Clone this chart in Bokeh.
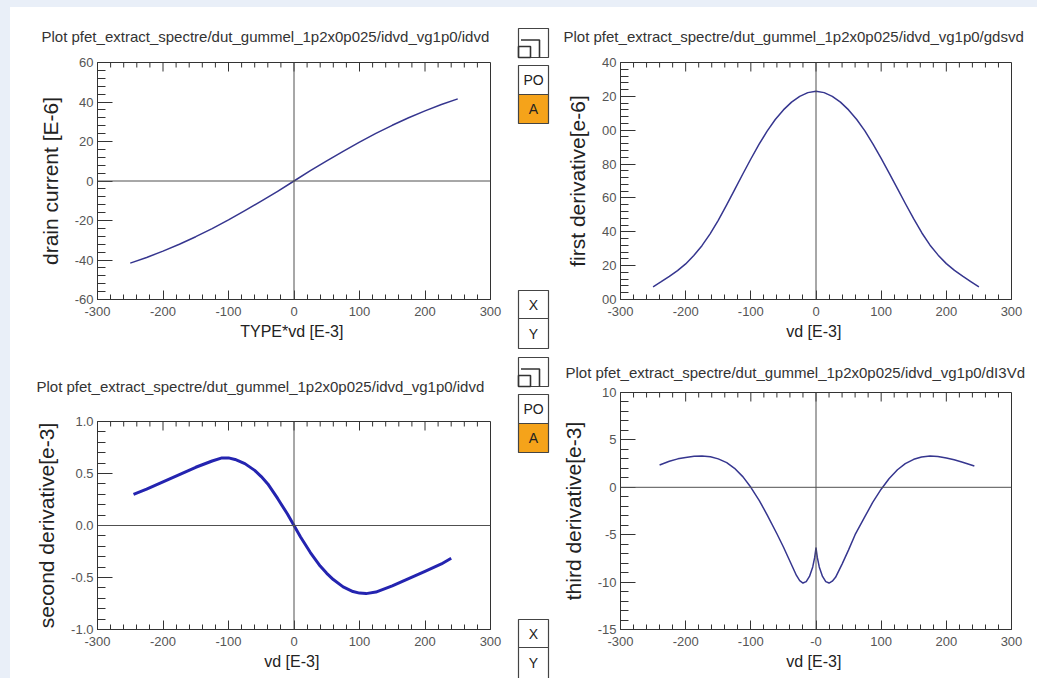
import math
from bokeh.plotting import figure
from bokeh.layouts import row, column
from bokeh.models import Range1d, SingleIntervalTicker, Span, PrintfTickFormatter, Spacer, Title
from bokeh.embed import file_html
from bokeh.resources import INLINE
from bokeh.core.properties import value

# ---------------- data ----------------
vd_id = [-250, -225, -200, -175, -150, -125, -100, -75, -50, -25, 0,
         25, 50, 75, 100, 125, 150, 175, 200, 225, 250]
id_vals = [-41.6, -38.7, -35.5, -32.0, -28.2, -24.1, -19.7, -15.0, -10.2, -5.2, 0.0,
           5.2, 10.2, 15.0, 19.7, 24.1, 28.2, 32.0, 35.5, 38.7, 41.6]

vd_gds = [-250, -237.5, -225, -212.5, -200, -187.5, -175, -162.5, -150, -137.5, -125, -112.5,
          -100, -87.5, -75, -62.5, -50, -37.5, -25, -12.5, 0,
          12.5, 25, 37.5, 50, 62.5, 75, 87.5, 100, 112.5, 125, 137.5, 150, 162.5, 175,
          187.5, 200, 212.5, 225, 237.5, 250]
gds_vals = [107.5, 110.5, 113.7, 117.1, 121, 126, 131.8, 138.8, 146.8, 155.6, 164.8, 174,
            183, 191.6, 199.5, 206.3, 212, 216.6, 220, 222.2, 223,
            222.2, 220, 216.6, 212, 206.3, 199.6, 191.8, 183.3, 174.5, 165.5, 156.4, 147.6,
            139.3, 132.1, 126.2, 121.2, 117.2, 113.8, 110.6, 107.5]

vd_d2 = [-245, -225, -200, -175, -150, -125, -110, -100, -90, -75, -60, -50, -40, -25, -10, 0,
         10, 25, 40, 50, 60, 75, 90, 100, 110, 125, 150, 175, 200, 225, 240]
d2_vals = [0.30, 0.35, 0.42, 0.49, 0.56, 0.62, 0.65, 0.65, 0.635, 0.595, 0.53, 0.47, 0.40, 0.26,
           0.11, 0.0, -0.11, -0.26, -0.39, -0.46, -0.52, -0.59, -0.635, -0.65, -0.655, -0.64,
           -0.58, -0.51, -0.44, -0.37, -0.315]

vd_d3 = [-240, -225, -212, -200, -187, -175, -162, -150, -137, -125, -112, -100, -87, -75, -60,
         -50, -40, -30, -25, -20, -15, -10, -5, -2, 0, 2, 5, 10, 15, 20, 25, 30, 40, 50, 60,
         75, 87, 100, 112, 125, 137, 150, 162, 175, 187, 200, 212, 225, 243]
d3_vals = [2.35, 2.75, 3.0, 3.15, 3.27, 3.3, 3.22, 3.0, 2.6, 2.0, 1.1, 0.0, -1.4, -2.9, -4.9,
           -6.3, -7.8, -9.3, -9.85, -10.1, -9.95, -9.4, -8.4, -7.4, -6.4, -7.4, -8.4, -9.4,
           -9.95, -10.1, -9.9, -9.5, -8.1, -6.6, -5.0, -3.1, -1.6, -0.2, 0.9, 1.85, 2.5, 2.95,
           3.2, 3.3, 3.25, 3.1, 2.9, 2.65, 2.25]

# tick values / labels as drawn in the reference
x_major_ticks = [-300, -200, -100, 0, 100, 200, 300]
x_minor_ticks = [t for t in range(-300, 301, 20) if t % 100 != 0]
gds_tick_values = [100, 120, 140, 160, 180, 200, 220, 240]
gds_tick_labels = ["00", "20", "40", "60", "80", "00", "20", "40"]
d3_x_tick_values = [0]
d3_x_tick_labels = ["-0"]

titles = ["Plot pfet_extract_spectre/dut_gummel_1p2x0p025/idvd_vg1p0/idvd",
          "Plot pfet_extract_spectre/dut_gummel_1p2x0p025/idvd_vg1p0/gdsvd",
          "Plot pfet_extract_spectre/dut_gummel_1p2x0p025/idvd_vg1p0/idvd",
          "Plot pfet_extract_spectre/dut_gummel_1p2x0p025/idvd_vg1p0/dI3Vd"]
x_labels = ["TYPE*vd  [E-3]", "vd  [E-3]", "vd  [E-3]", "vd  [E-3]"]
y_labels = ["drain current [E-6]", "first derivative[e-6]",
            "second derivative[e-3]", "third derivative[e-3]"]
button_texts = ["PO", "A", "X", "Y"]

FONT = "Liberation Sans"
BG_BLUE = "#e9eff8"


def style_axis(ax, major_in, minor_in):
    ax.axis_line_color = None
    ax.major_tick_in = major_in
    ax.major_tick_out = 0
    ax.minor_tick_in = minor_in
    ax.minor_tick_out = 0
    ax.major_tick_line_color = "#333333"
    ax.minor_tick_line_color = "#333333"
    ax.major_label_text_font = FONT
    ax.major_label_text_font_size = "13px"
    ax.major_label_text_color = "#555555"
    ax.axis_label_text_font = FONT
    ax.axis_label_text_font_style = "normal"
    ax.axis_label_text_color = "#222222"


def make_panel(xs, ys, title, xlabel, ylabel, w, h, bl, br, bt, bb,
               y0, y1, y_int, t_off, t_stand, t_valign, lcolor, lwidth, y_fmt,
               x_over=None, y_over=None):
    p = figure(width=w, height=h, x_range=Range1d(-300, 300), y_range=Range1d(y0, y1),
               output_backend="svg", toolbar_location=None, title=None,
               min_border_left=bl, min_border_right=br, min_border_top=bt,
               min_border_bottom=bb)
    p.grid.visible = False
    p.outline_line_color = "#333333"
    p.outline_line_width = 1
    p.background_fill_color = "white"
    p.border_fill_color = "white"

    xa = p.below[0]
    ya = p.left[0]

    p.add_layout(Title(text=title, align="left", vertical_align=t_valign, offset=t_off,
                       text_font=FONT, text_font_size="15px", text_font_style="normal",
                       text_color="#333333", standoff=t_stand), "above")

    xa.ticker = SingleIntervalTicker(interval=100, num_minor_ticks=5)
    xa.formatter = PrintfTickFormatter(format="%d")
    style_axis(xa, 9, 5)
    xa.axis_label = xlabel
    xa.axis_label_text_font_size = "16px"
    xa.major_label_standoff = 7
    xa.axis_label_standoff = 4
    if x_over:
        xa.major_label_overrides = x_over

    ya.ticker = SingleIntervalTicker(interval=y_int, num_minor_ticks=5)
    ya.formatter = y_fmt
    style_axis(ya, 15, 8)
    ya.axis_label = ylabel
    ya.axis_label_text_font_size = "21px"
    ya.major_label_standoff = 4
    ya.axis_label_standoff = 10
    if y_over:
        ya.major_label_overrides = y_over

    # inward tick marks along the top edge (no labels there)
    p.ray(x=x_major_ticks, y=[y1] * len(x_major_ticks), length=9, length_units="screen",
          angle=-math.pi / 2, line_color="#333333", line_width=1)
    p.ray(x=x_minor_ticks, y=[y1] * len(x_minor_ticks), length=5, length_units="screen",
          angle=-math.pi / 2, line_color="#333333", line_width=1)

    p.add_layout(Span(location=0, dimension="height", line_color="#505050", line_width=1))
    p.add_layout(Span(location=0, dimension="width", line_color="#505050", line_width=1))

    p.line(xs, ys, line_color=lcolor, line_width=lwidth, line_join="round")
    return p


int_fmt = PrintfTickFormatter(format="%d")
p1 = make_panel(vd_id, id_vals, titles[0], x_labels[0], y_labels[0],
                502, 338, 84, 22, 55, 46, -60, 60, 20, -56, 35, "bottom",
                "#36368f", 1.5, int_fmt)
p2 = make_panel(vd_gds, gds_vals, titles[1], x_labels[1], y_labels[1],
                485, 338, 68, 26, 55, 46, 100, 240, 20, -57, 35, "bottom",
                "#36368f", 1.5, int_fmt,
                y_over=dict(zip(gds_tick_values, gds_tick_labels)))
p3 = make_panel(vd_d2, d2_vals, titles[2], x_labels[2], y_labels[2],
                502, 333, 87, 22, 76, 49, -1.0, 1.0, 0.5, -61, 54, "bottom",
                "#2424b0", 3, PrintfTickFormatter(format="%.1f"))
p4 = make_panel(vd_d3, d3_vals, titles[3], x_labels[3], y_labels[3],
                485, 333, 68, 26, 47, 49, -15, 10, 5, -55, 19, "top",
                "#36368f", 1.5, int_fmt,
                x_over=dict(zip(d3_x_tick_values, d3_x_tick_labels)))

# ---------------- button strip between the plots ----------------
b = figure(width=40, height=671, x_range=Range1d(0, 40), y_range=Range1d(671, 0),
           output_backend="svg", toolbar_location=None, min_border=0)
b.axis.visible = False
b.grid.visible = False
b.outline_line_color = None
b.background_fill_color = "white"
b.border_fill_color = "white"

group_offsets = [0, 329]
bx0, bx1 = 6, 36
for g in group_offsets:
    tops = [21 + g, 58 + g, 87 + g, 283 + g, 311 + g]
    bots = [50 + g, 87 + g, 116 + g, 311 + g, 341 + g + (35 if g else 0)]
    fills = ["white", "white", "#f5a31a", "white", "white"]
    b.quad(left=[bx0] * 5, right=[bx1] * 5, top=tops, bottom=bots,
           fill_color=fills, line_color="#444444", line_width=1.2)
    # icon inside the first box
    b.multi_line(xs=[[bx0 + 2.5, bx0 + 21, bx0 + 21]],
                 ys=[[21 + g + 11.5, 21 + g + 11.5, 50 + g]],
                 line_color="#333333", line_width=1.6)
    b.quad(left=[bx0], right=[bx0 + 12], top=[21 + g + 18], bottom=[50 + g],
           fill_color=None, line_color="#333333", line_width=1.6)
    b.text(x=[21, 21, 21, 21], y=[72.5 + g, 101.5 + g, 297 + g, 326 + g],
           text=button_texts, text_align="center", text_baseline="middle",
           text_font=value(FONT), text_font_size="14px", text_color="#222222")

top_band = Spacer(width=1037, height=7, styles={"background-color": BG_BLUE})
left_band = Spacer(width=10, height=671, styles={"background-color": BG_BLUE})
page = column(top_band, row(left_band, column(p1, p3), b, column(p2, p4)))

open("out.html", "w").write(file_html(page, INLINE))
